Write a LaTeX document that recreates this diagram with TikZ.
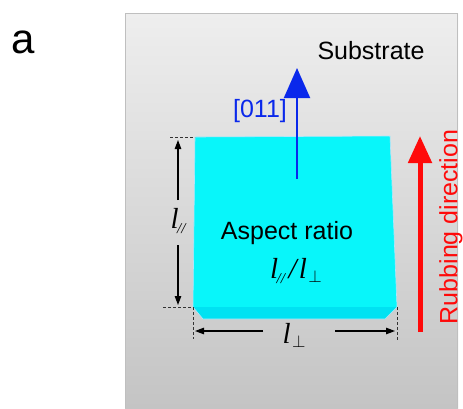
\documentclass[tikz,border=0pt]{standalone}
\usepackage{fontspec}
\setmainfont{Liberation Sans}
\newfontfamily\tms{Liberation Serif}
\usetikzlibrary{arrows.meta}
\definecolor{slabtop}{RGB}{8,246,250}
\definecolor{slabfront}{RGB}{0,226,242}
\definecolor{bluearr}{RGB}{10,40,235}
\definecolor{redarr}{RGB}{255,10,10}
\definecolor{panelhi}{RGB}{238,238,238}
\definecolor{panello}{RGB}{196,196,196}
\newcommand{\lpar}{{\tms\itshape l\kern-0.05em\raisebox{-0.35ex}{\fontsize{15}{15}\selectfont//}}}
\newcommand{\lperp}{{\tms\itshape l\kern0.05em\raisebox{-0.3ex}{\fontsize{19}{19}\selectfont$\perp$}}}
\begin{document}
\begin{tikzpicture}[x=1pt,y=-1pt,
  lbl/.style={inner sep=0pt,font=\fontsize{25}{25}\selectfont},
  dimtip/.style={-{Triangle[length=9pt,width=6.5pt]},line width=1.1pt,black},
  dimdash/.style={dashed,dash pattern=on 3pt off 2pt,line width=0.8pt,black!80}]
\useasboundingbox (0,0) rectangle (463,408);
\fill[white] (0,0) rectangle (463,408);
% substrate panel
\shade[top color=panelhi,bottom color=panello] (125,13) rectangle (458,408);
\draw[black!25,line width=1pt] (125.5,408) -- (125.5,13.5) -- (457.5,13.5) -- (457.5,408);
% slab
\fill[slabtop] (195,137) -- (390,136) -- (397,307) -- (193,307) -- cycle;
\fill[slabfront] (193,307) -- (397,307) -- (385,319) -- (203,319) -- cycle;
\draw[white!70!cyan,line width=0.6pt] (195,137) -- (390,136) -- (397,307) -- (385,319) -- (203,319) -- (193,307) -- cycle;
% texts
\node[lbl] (sub) at (371,51) {Substrate};
\node[lbl,text=bluearr] (miller) at (260,111) {[011]};
\node[lbl] (asp) at (287,233) {Aspect ratio};
\node[inner sep=0pt,font=\fontsize{29}{29}\selectfont] (ratio) at (296,271) {\lpar\kern0.12em{\tms\itshape /}\kern0.08em\lperp};
\node[lbl,text=redarr,rotate=90] (rub) at (451,227) {Rubbing direction};
\node[inner sep=0pt,font=\fontsize{42}{42}\selectfont] (panel) at (23,42) {a};
\node[inner sep=0pt,font=\fontsize{29}{29}\selectfont] (lp) at (178,221) {\lpar};
\node[inner sep=0pt,font=\fontsize{29}{29}\selectfont] (lq) at (294,335) {\lperp};
% blue arrow
\coordinate (bstart) at (297,179);
\coordinate (bend) at (297,68);
\draw[bluearr,line width=2pt,-{Triangle[length=30pt,width=26pt]}] (bstart) -- (bend);
% red arrow
\coordinate (rstart) at (420,332);
\coordinate (rend) at (420,136);
\draw[redarr,line width=5pt,-{Triangle[length=27pt,width=23pt]}] (rstart) -- (rend);
% dimension arrows
\coordinate (vtop) at (178,140);
\coordinate (vbot) at (178,305);
\coordinate (hleft) at (195,331);
\coordinate (hright) at (395,331);
\draw[dimtip] (178,200) -- (vtop);
\draw[dimtip] (178,245) -- (vbot);
\draw[dimtip] (263,331) -- (hleft);
\draw[dimtip] (335,331) -- (hright);
% dashed guides
\coordinate (d1a) at (170,137); \coordinate (d1b) at (195,137);
\coordinate (d2a) at (163,307); \coordinate (d2b) at (193,307);
\coordinate (d3b) at (193,339);
\coordinate (d4a) at (397,307); \coordinate (d4b) at (397,341);
\draw[dimdash] (d1a) -- (d1b);
\draw[dimdash] (d2a) -- (d2b);
\draw[dimdash] (d2b) -- (d3b);
\draw[dimdash] (d4a) -- (d4b);
\end{tikzpicture}
\end{document}
